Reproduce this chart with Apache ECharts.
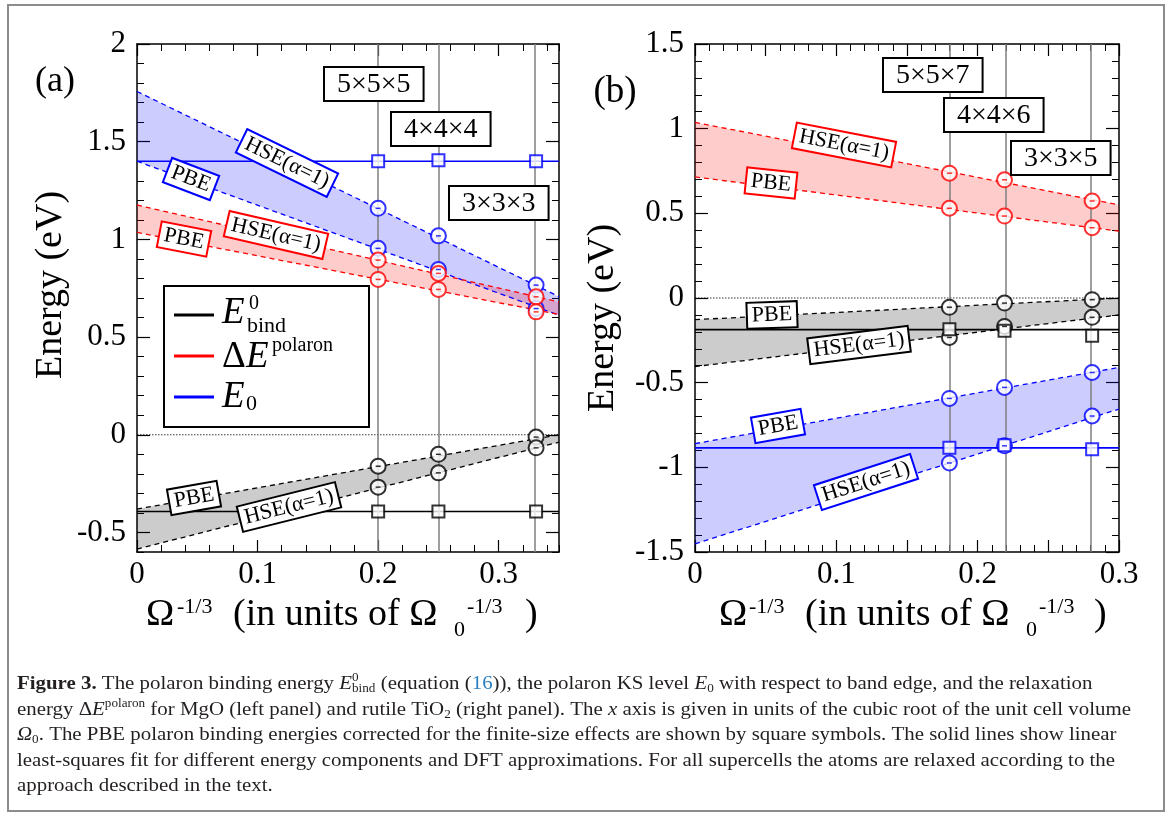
<!DOCTYPE html>
<html>
<head>
<meta charset="utf-8">
<script src="https://cdn.jsdelivr.net/npm/echarts@6/dist/echarts.min.js"></script>
<style>
  html, body { margin: 0; padding: 0; background: #fff; }
  #chart { width: 1171px; height: 814px; }
</style>
</head>
<body>
<div id="chart"></div>
<script>
// ---- panel (a): MgO ----
const aCells = [0.2, 0.25, 0.331];          // supercells 5x5x5, 4x4x4, 3x3x3
const aFitX = [0, 0.35];
const aE0Hse = [1.159, 1.018, 0.766];
const aE0HseFit = [1.757, 0.707];
const aE0Pbe = [0.954, 0.846, 0.646];
const aE0PbeFit = [1.40, 0.612];
const aE0Corr = [1.40, 1.405, 1.40];
const aE0CorrFit = [1.40, 1.40];
const aPolHse = [0.894, 0.826, 0.706];
const aPolHseFit = [1.176, 0.680];
const aPolPbe = [0.795, 0.744, 0.629];
const aPolPbeFit = [1.036, 0.616];
const aBindPbe = [-0.161, -0.100, -0.012];
const aBindPbeFit = [-0.380, 0.0];
const aBindHse = [-0.268, -0.195, -0.067];
const aBindHseFit = [-0.585, -0.038];
const aBindCorr = [-0.393, -0.393, -0.393];
const aBindCorrFit = [-0.393, -0.393];

// ---- panel (b): rutile TiO2 ----
const bCells = [0.18, 0.219, 0.281];        // supercells 5x5x7, 4x4x6, 3x3x5
const bFitX = [0, 0.3];
const bPolHse = [0.737, 0.698, 0.573];
const bPolHseFit = [1.037, 0.550];
const bPolPbe = [0.530, 0.484, 0.415];
const bPolPbeFit = [0.715, 0.395];
const bBindPbe = [-0.055, -0.030, -0.010];
const bBindPbeFit = [-0.128, 0.0];
const bBindHse = [-0.233, -0.168, -0.114];
const bBindHseFit = [-0.405, -0.100];
const bBindCorr = [-0.184, -0.193, -0.223];
const bBindCorrFit = [-0.187, -0.187];
const bE0Pbe = [-0.593, -0.528, -0.440];
const bE0PbeFit = [-0.860, -0.410];
const bE0Hse = [-0.974, -0.873, -0.697];
const bE0HseFit = [-1.452, -0.656];
const bE0Corr = [-0.885, -0.869, -0.893];
const bE0CorrFit = [-0.885, -0.885];

// ---- tick labels ----
const aXLabels = [0, 0.1, 0.2, 0.3];
const aXMajor = [0, 0.1, 0.2, 0.3];
const aYLabels = [-0.5, 0, 0.5, 1, 1.5, 2];
const bXLabels = [0, 0.1, 0.2, 0.3];
const bXMajor = [0, 0.05, 0.1, 0.15, 0.2, 0.25, 0.3];
const bYLabels = [-1.5, -1, -0.5, 0, 0.5, 1, 1.5];

const BLUE = '#0000ff', RED = '#ff0000', BLACK = '#000000', GRAY = '#7f7f7f';
const SERIF = '"Liberation Serif", "Times New Roman", serif';

const chart = echarts.init(document.getElementById('chart'));

function pts(xs, ys) { return xs.map((x, i) => [x, ys[i]]); }

function xAxes(g, min, max, major, labels, minor) {
    const base = { gridIndex: g, type: 'value', min: min, max: max, splitLine: { show: false } };
    const line = { show: true, onZero: false, lineStyle: { color: '#000', width: 1.5 } };
    const longTick = { show: true, inside: true, length: 12, customValues: major, lineStyle: { color: '#000', width: 1.2 } };
    const shortTick = { show: true, inside: true, length: 7, lineStyle: { color: '#000', width: 1 } };
    return [
        Object.assign({}, base, { position: 'bottom', axisLine: line, axisTick: longTick,
            axisLabel: { show: true, customValues: labels, margin: 7, fontFamily: SERIF, fontSize: 31, color: '#000' } }),
        Object.assign({}, base, { position: 'bottom', interval: minor, axisLine: { show: false, onZero: false }, axisTick: shortTick, axisLabel: { show: false } }),
        Object.assign({}, base, { position: 'top', axisLine: line, axisTick: longTick, axisLabel: { show: false } }),
        Object.assign({}, base, { position: 'top', interval: minor, axisLine: { show: false, onZero: false }, axisTick: shortTick, axisLabel: { show: false } })
    ];
}
function yAxes(g, min, max, major, labels, minor) {
    const base = { gridIndex: g, type: 'value', min: min, max: max, splitLine: { show: false } };
    const line = { show: true, onZero: false, lineStyle: { color: '#000', width: 1.5 } };
    const longTick = { show: true, inside: true, length: 13, customValues: major, lineStyle: { color: '#000', width: 1.2 } };
    const shortTick = { show: true, inside: true, length: 7, lineStyle: { color: '#000', width: 1 } };
    return [
        Object.assign({}, base, { position: 'left', axisLine: line, axisTick: longTick,
            axisLabel: { show: true, customValues: labels, margin: 11, fontFamily: SERIF, fontSize: 31, color: '#000' } }),
        Object.assign({}, base, { position: 'left', interval: minor, axisLine: { show: false, onZero: false }, axisTick: shortTick, axisLabel: { show: false } }),
        Object.assign({}, base, { position: 'right', axisLine: line, axisTick: longTick, axisLabel: { show: false } }),
        Object.assign({}, base, { position: 'right', interval: minor, axisLine: { show: false, onZero: false }, axisTick: shortTick, axisLabel: { show: false } })
    ];
}

// shaded area between two fitted lines
function band(g, xs, lo, hi, fill) {
    return {
        type: 'custom', xAxisIndex: g * 4, yAxisIndex: g * 4, silent: true, z: 1,
        data: [[xs[0], lo[0], hi[0], xs[1], lo[1], hi[1]]],
        encode: { x: [0, 3], y: [1, 2, 4, 5] },
        renderItem: function (params, api) {
            const p = [
                api.coord([api.value(0), api.value(1)]),
                api.coord([api.value(3), api.value(4)]),
                api.coord([api.value(3), api.value(5)]),
                api.coord([api.value(0), api.value(2)])
            ];
            return { type: 'polygon', shape: { points: p }, style: { fill: fill } };
        }
    };
}
function fit(g, xs, ys, color, dashed) {
    return {
        type: 'line', xAxisIndex: g * 4, yAxisIndex: g * 4, data: pts(xs, ys),
        symbol: 'none', silent: true, z: 3,
        lineStyle: { color: color, width: dashed ? 1.3 : 1.6, type: dashed ? [5, 4] : 'solid' }
    };
}
function dots(g, xs, ys, color, square) {
    const s = [{
        type: 'scatter', xAxisIndex: g * 4, yAxisIndex: g * 4, data: pts(xs, ys), silent: true, z: 5,
        symbol: square ? 'emptyRect' : 'emptyCircle', symbolSize: square ? 12 : 15,
        itemStyle: { color: color, borderColor: color, borderWidth: 1.7 }
    }];
    if (!square) {
        s.push({
            type: 'scatter', xAxisIndex: g * 4, yAxisIndex: g * 4, data: pts(xs, ys), silent: true, z: 6,
            symbol: 'rect', symbolSize: [5, 1.5], itemStyle: { color: color }
        });
    }
    return s;
}
function guides(g, xs, cells) {
    return {
        type: 'line', xAxisIndex: g * 4, yAxisIndex: g * 4, data: pts(xs, [0, 0]),
        symbol: 'none', silent: true, z: 2,
        lineStyle: { color: '#000', width: 0.8, type: [1.5, 1.5] },
        markLine: {
            silent: true, symbol: ['none', 'none'], label: { show: false }, animation: false,
            data: cells.map(c => ({ xAxis: c, lineStyle: { color: GRAY, width: 1.5, type: 'solid' } }))
        }
    };
}

// ---- text helpers (graphic) ----
const meas = document.createElement('canvas').getContext('2d');
function fontOf(r, d) {
    return (r.style || 'normal') + ' ' + (r.weight || 'normal') + ' ' + (r.size || d.size) + 'px ' + SERIF;
}
function runs(x0, y, list, d) {
    const out = [];
    let x = x0, hold = 0;
    list.forEach(r => {
        const font = fontOf(r, d);
        meas.font = font;
        const w = meas.measureText(r.t).width;
        if (r.x != null) x = r.x;
        out.push({
            type: 'text', z: 100, x: x, y: y + (r.dy || 0),
            style: { text: r.t, font: font, fill: r.color || d.color, align: 'left', verticalAlign: 'middle', textAlign: 'left', textVerticalAlign: 'middle' }
        });
        if (r.hold) { hold = w; } else { x += Math.max(w, hold); hold = 0; }
    });
    return { elements: out, width: x - x0 };
}
function tag(cx, cy, text, color, deg) {
    return {
        type: 'text', z: 100, x: cx, y: cy, rotation: deg * Math.PI / 180,
        style: {
            text: text, font: '22px ' + SERIF, fill: '#000', align: 'center', verticalAlign: 'middle',
            textAlign: 'center', textVerticalAlign: 'middle',
            backgroundColor: '#fff', borderColor: color, borderWidth: 2, padding: [2, 4, 0, 4]
        }
    };
}
function box(x, y, text) {
    return {
        type: 'text', z: 100, x: x, y: y,
        style: {
            text: text, font: '28px ' + SERIF, fill: '#000', align: 'left', verticalAlign: 'top',
            textAlign: 'left', textVerticalAlign: 'top', lineHeight: 28,
            backgroundColor: '#fff', borderColor: '#000', borderWidth: 2, padding: [3, 12, 1, 12]
        }
    };
}
function plain(x, y, text, size, rot) {
    return {
        type: 'text', z: 100, x: x, y: y, rotation: rot || 0,
        style: { text: text, font: size + 'px ' + SERIF, fill: '#000', align: 'center', verticalAlign: 'middle', textAlign: 'center', textVerticalAlign: 'middle' }
    };
}

const graphics = [];
graphics.push({ type: 'rect', z: 100, shape: { x: 8, y: 5, width: 1156, height: 806 }, style: { fill: null, stroke: '#8c8c8c', lineWidth: 2 } });

// panel letters and y titles
graphics.push(plain(55, 82, '(a)', 36));
graphics.push(plain(615, 92, '(b)', 37));
graphics.push(plain(51, 285, 'Energy (eV)', 38, Math.PI / 2));
graphics.push(plain(603, 318, 'Energy (eV)', 38, Math.PI / 2));

// x titles
const T = { size: 38, color: '#000' };
[[146, 177, 233, 454, 467, 525], [719, 749, 805, 1026, 1039, 1094]].forEach(p => {
    runs(0, 615, [
        { t: 'Ω', x: p[0] },
        { t: '-1/3', x: p[1], size: 22, dy: -8 },
        { t: '(in units of Ω', x: p[2] },
        { t: '0', x: p[3], size: 22, dy: 15 },
        { t: '-1/3', x: p[4], size: 22, dy: -8 },
        { t: ')', x: p[5] }
    ], T).elements.forEach(e => graphics.push(e));
});

// supercell boxes
graphics.push(box(325, 68, '5×5×5'), box(392, 113, '4×4×4'), box(450, 187, '3×3×3'));
graphics.push(box(884, 59, '5×5×7'), box(945, 99, '4×4×6'), box(1012, 142, '3×3×5'));

// fit labels
graphics.push(
    tag(287, 163, 'HSE(α=1)', BLUE, -26), tag(191, 179, 'PBE', BLUE, -21),
    tag(276, 235, 'HSE(α=1)', RED, -13), tag(184, 239, 'PBE', RED, -11),
    tag(194, 498, 'PBE', BLACK, 10), tag(289, 507, 'HSE(α=1)', BLACK, 14),
    tag(844, 145, 'HSE(α=1)', RED, -11), tag(771, 183, 'PBE', RED, -6),
    tag(772, 315, 'PBE', BLACK, 2), tag(859, 345, 'HSE(α=1)', BLACK, 7),
    tag(778, 426, 'PBE', BLUE, 10), tag(866, 482, 'HSE(α=1)', BLUE, 18)
);

// legend
graphics.push({ type: 'rect', z: 100, shape: { x: 164, y: 286, width: 205, height: 141 }, style: { fill: '#fff', stroke: '#000', lineWidth: 2 } });
[[315, BLACK], [356, RED], [397, BLUE]].forEach(r => {
    graphics.push({ type: 'line', z: 101, shape: { x1: 174, y1: r[0], x2: 214, y2: r[0] }, style: { stroke: r[1], lineWidth: 3 } });
});
const L = { size: 37, color: '#000' };
[
    [313, [{ t: 'E', style: 'italic', x: 222 }, { t: '0', size: 20, x: 249, dy: -9 }, { t: 'bind', size: 22, x: 247, dy: 13 }]],
    [357, [{ t: 'Δ', x: 222 }, { t: 'E', style: 'italic', x: 246 }, { t: 'polaron', size: 20, x: 272, dy: -11 }]],
    [397, [{ t: 'E', style: 'italic', x: 222 }, { t: '0', size: 22, x: 246, dy: 7 }]]
].forEach(row => runs(0, row[0], row[1], L).elements.forEach(e => graphics.push(e)));

// caption (condensed serif, stretched to the reference line length)
const C = { size: 19, color: '#231f20' };
const SUP = { size: 12, dy: -6 }, SUB = { size: 12, dy: 5 };
const capLines = [
    [{ t: 'Figure 3.', weight: 'bold' }, { t: ' The polaron binding energy ' }, { t: 'E', style: 'italic' },
     Object.assign({ t: '0', hold: true }, SUP), Object.assign({ t: 'bind' }, SUB), { t: ' (equation (' }, { t: '16', color: '#2a7fc1' },
     { t: ')), the polaron KS level ' }, { t: 'E', style: 'italic' }, Object.assign({ t: '0' }, SUB),
     { t: ' with respect to band edge, and the relaxation' }],
    [{ t: 'energy Δ' }, { t: 'E', style: 'italic' }, Object.assign({ t: 'polaron' }, SUP), { t: ' for MgO (left panel) and rutile TiO' },
     Object.assign({ t: '2' }, SUB), { t: ' (right panel). The ' }, { t: 'x', style: 'italic' },
     { t: ' axis is given in units of the cubic root of the unit cell volume' }],
    [{ t: 'Ω', style: 'italic' }, Object.assign({ t: '0' }, SUB),
     { t: '. The PBE polaron binding energies corrected for the finite-size effects are shown by square symbols. The solid lines show linear' }],
    [{ t: 'least-squares fit for different energy components and DFT approximations. For all supercells the atoms are relaxed according to the' }],
    [{ t: 'approach described in the text.' }]
];
const capY = [684, 710, 735, 761, 786];
const capScale = 1114 / runs(0, 0, capLines[1], C).width;
capLines.forEach((ln, i) => {
    graphics.push({ type: 'group', x: 17, y: 0, scaleX: capScale, children: runs(0, capY[i], ln, C).elements });
});

const option = {
    animation: false,
    backgroundColor: '#fff',
    grid: [
        { left: 137, top: 44, width: 422, height: 508 },
        { left: 695, top: 44, width: 424, height: 508 }
    ],
    xAxis: [].concat(
        xAxes(0, 0, 0.35, aXMajor, aXLabels, 0.02),
        xAxes(1, 0, 0.3, bXMajor, bXLabels, 0.01)
    ),
    yAxis: [].concat(
        yAxes(0, -0.6, 2, aYLabels, aYLabels, 0.1),
        yAxes(1, -1.5, 1.5, bYLabels, bYLabels, 0.1)
    ),
    series: [].concat(
        band(0, aFitX, aE0PbeFit, aE0HseFit, 'rgba(0,0,255,0.2)'),
        band(0, aFitX, aPolPbeFit, aPolHseFit, 'rgba(255,0,0,0.2)'),
        band(0, aFitX, aBindHseFit, aBindPbeFit, 'rgba(0,0,0,0.2)'),
        guides(0, aFitX, aCells),
        fit(0, aFitX, aE0HseFit, BLUE, true), fit(0, aFitX, aE0PbeFit, BLUE, true), fit(0, aFitX, aE0CorrFit, BLUE, false),
        fit(0, aFitX, aPolHseFit, RED, true), fit(0, aFitX, aPolPbeFit, RED, true),
        fit(0, aFitX, aBindPbeFit, BLACK, true), fit(0, aFitX, aBindHseFit, BLACK, true), fit(0, aFitX, aBindCorrFit, BLACK, false),
        dots(0, aCells, aE0Hse, BLUE), dots(0, aCells, aE0Pbe, BLUE), dots(0, aCells, aE0Corr, BLUE, true),
        dots(0, aCells, aPolHse, RED), dots(0, aCells, aPolPbe, RED),
        dots(0, aCells, aBindPbe, BLACK), dots(0, aCells, aBindHse, BLACK), dots(0, aCells, aBindCorr, BLACK, true),

        band(1, bFitX, bPolPbeFit, bPolHseFit, 'rgba(255,0,0,0.2)'),
        band(1, bFitX, bBindHseFit, bBindPbeFit, 'rgba(0,0,0,0.2)'),
        band(1, bFitX, bE0HseFit, bE0PbeFit, 'rgba(0,0,255,0.2)'),
        guides(1, bFitX, bCells),
        fit(1, bFitX, bPolHseFit, RED, true), fit(1, bFitX, bPolPbeFit, RED, true),
        fit(1, bFitX, bBindPbeFit, BLACK, true), fit(1, bFitX, bBindHseFit, BLACK, true), fit(1, bFitX, bBindCorrFit, BLACK, false),
        fit(1, bFitX, bE0PbeFit, BLUE, true), fit(1, bFitX, bE0HseFit, BLUE, true), fit(1, bFitX, bE0CorrFit, BLUE, false),
        dots(1, bCells, bPolHse, RED), dots(1, bCells, bPolPbe, RED),
        dots(1, bCells, bBindPbe, BLACK), dots(1, bCells, bBindHse, BLACK), dots(1, bCells, bBindCorr, BLACK, true),
        dots(1, bCells, bE0Pbe, BLUE), dots(1, bCells, bE0Hse, BLUE), dots(1, bCells, bE0Corr, BLUE, true)
    ),
    graphic: { elements: graphics }
};
chart.setOption(option);
</script>
</body>
</html>
